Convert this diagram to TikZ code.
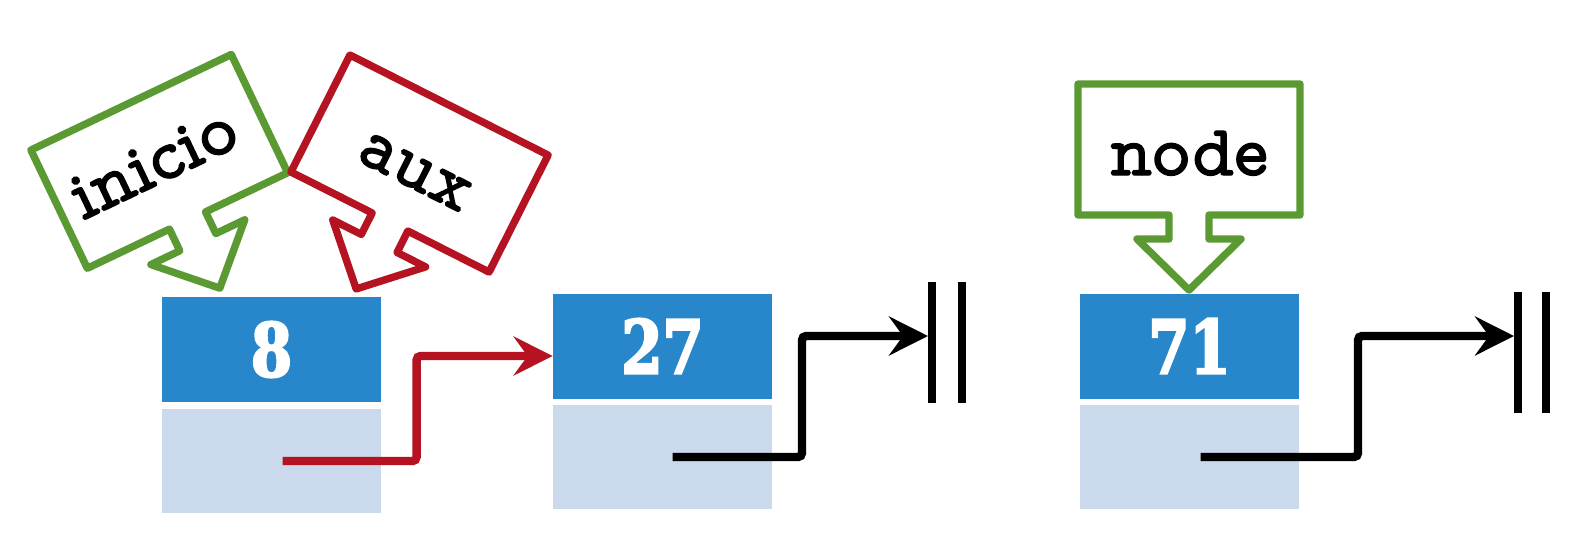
\documentclass[tikz,border=0pt]{standalone}
\usepackage{fontspec}
\usetikzlibrary{arrows.meta}
\newfontfamily\numfont[FakeStretch=0.8, FakeBold=3]{DejaVu Serif Bold}
\newfontfamily\labfont[FakeBold=2]{lmmonoprop10-regular.otf}
\definecolor{nodeblue}{RGB}{39,135,202}
\definecolor{ptrblue}{RGB}{203,217,236}
\definecolor{rojo}{RGB}{181,19,33}
\definecolor{verde}{RGB}{91,154,51}
\tikzset{
  databox/.style={rectangle, fill=nodeblue, minimum width=109.5pt, minimum height=52.5pt, inner sep=0pt, text=white, font=\numfont\fontsize{37}{37}\selectfont},
  ptrbox/.style={rectangle, fill=ptrblue, minimum width=109.5pt, minimum height=52pt, inner sep=0pt},
  link/.style={line width=4.2pt, rounded corners=2pt, -{Stealth[length=19.5pt,width=19.5pt,inset=7pt]}},
  nilbar/.style={line width=4.2pt},
  callout/.style={line width=3.7pt, line join=round, fill=white},
  labeltext/.style={font=\labfont\fontsize{36}{36}\selectfont, anchor=base, inner sep=0pt},
}
\begin{document}
\begin{tikzpicture}[x=0.5pt, y=-0.5pt]
\useasboundingbox (0,0) rectangle (1588,546);
% list nodes
\node[databox] (d8) at (271.5,349.5) {\raisebox{-2pt}{8}};
\node[ptrbox] (p8) at (271.5,461) {};
\node[databox] (d27) at (662.5,346) {\raisebox{-2pt}{27}};
\node[ptrbox] (p27) at (662.5,457) {};
\node[databox] (d71) at (1189.5,346) {\raisebox{-2pt}{71}};
\node[ptrbox] (p71) at (1189.5,457) {};
% nil markers
\coordinate (nil1) at (928,336);
\coordinate (nil2) at (1514,336);
\draw[nilbar] (932,282) -- (932,403);
\draw[nilbar] (962,282) -- (962,403);
\draw[nilbar] (1518,292) -- (1518,413);
\draw[nilbar] (1546,292) -- (1546,413);
% links
\coordinate (r1) at ([yshift=-5pt]d27.west);
\draw[link, rojo] ([xshift=5.5pt]p8.center) -| ([xshift=-68pt]r1) -- (r1);
\draw[link] ([xshift=5pt]p27.center) -| ([xshift=-63pt]nil1) -- (nil1);
\draw[link] ([xshift=5.5pt]p71.center) -| ([xshift=-78pt]nil2) -- (nil2);
% callout node
\begin{scope}[shift={(1189,215)}]
\draw[callout, draw=verde] (-20,0) -- (-111,0) -- (-111,-131) -- (111,-131) -- (111,0) -- (20,0) -- (20,24) -- (52,24) -- (0,75) -- (-52,24) -- (-20,24) -- cycle;
\node[labeltext] (lnode) at (0,-40) {node};
\end{scope}
% callout inicio
\begin{scope}[shift={(187.5,220.5)}, rotate=25.5]
\draw[callout, draw=verde] (-20,0) -- (-111,0) -- (-111,-131) -- (111,-131) -- (111,0) -- (20,0) -- (20,24) -- (52,24) -- (0,75) -- (-52,24) -- (-20,24) -- cycle;
\node[labeltext, rotate=25.5] (linicio) at (-6,-45) {inicio};
\end{scope}
% callout aux
\begin{scope}[shift={(390,222)}, rotate=-26.8]
\draw[callout, draw=rojo] (-20,0) -- (-111,0) -- (-111,-131) -- (111,-131) -- (111,0) -- (20,0) -- (20,24) -- (52,24) -- (0,75) -- (-52,24) -- (-20,24) -- cycle;
\node[labeltext, rotate=-26.8] (laux) at (0,-40) {aux};
\end{scope}
\end{tikzpicture}
\end{document}
